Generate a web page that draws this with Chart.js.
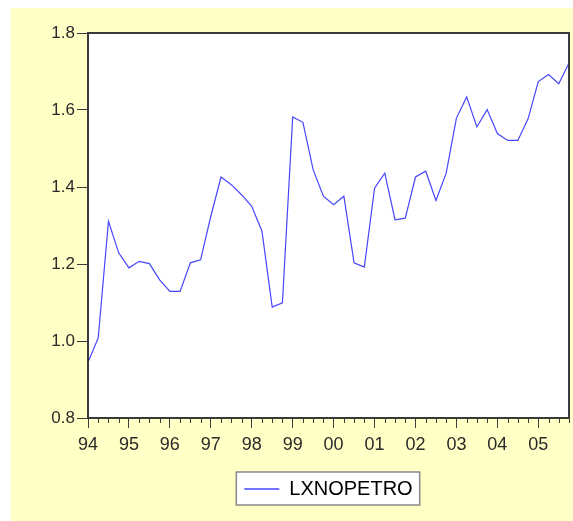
<!DOCTYPE html>
<html>
<head>
<meta charset="utf-8">
<script src="https://cdn.jsdelivr.net/npm/chart.js@4.4.0/dist/chart.umd.min.js"></script>
<style>
  html, body { margin: 0; padding: 0; background: #fff; }
  #wrap { position: relative; width: 573px; height: 521px; overflow: hidden; }
  #paper { position: absolute; left: 11px; top: 8px; right: 0; bottom: 0; background: #ffffc6; }
  #chart { position: absolute; left: 0; top: 0; }
</style>
</head>
<body>
<div id="wrap">
  <div id="paper"></div>
  <canvas id="chart" width="573" height="521"></canvas>
</div>
<script>
// --- datos: LXNOPETRO, trimestral 1994Q1 - 2005Q4 ---
const seriesName = 'LXNOPETRO';
const yearLabels = ['94', '95', '96', '97', '98', '99', '00', '01', '02', '03', '04', '05'];
const quarterLabels = [];
yearLabels.forEach(y => { for (let q = 1; q <= 4; q++) quarterLabels.push(y + 'Q' + q); });

const lxnopetro = [
  0.945, 1.008, 1.311, 1.229, 1.190, 1.207, 1.201, 1.159,
  1.129, 1.129, 1.203, 1.211, 1.324, 1.426, 1.406, 1.380,
  1.350, 1.285, 1.088, 1.099, 1.582, 1.568, 1.445, 1.376,
  1.354, 1.376, 1.203, 1.192, 1.397, 1.436, 1.315, 1.319,
  1.426, 1.441, 1.365, 1.436, 1.579, 1.634, 1.556, 1.601,
  1.539, 1.521, 1.521, 1.577, 1.674, 1.692, 1.668, 1.722
];

const yTicks = [0.8, 1.0, 1.2, 1.4, 1.6, 1.8];

const LINE_COLOR = '#4646ff';
const AXIS_COLOR = '#3a3a3a';
const TEXT_COLOR = '#2a2a2a';
const FONT = 'Arial, "Liberation Sans", sans-serif';

// --- plugin: fondo blanco del area, marco, ticks menores y caja de leyenda ---
const framePlugin = {
  id: 'frame',
  beforeDraw(chart) {
    const ctx = chart.ctx;
    const a = chart.chartArea;
    ctx.save();
    ctx.fillStyle = '#ffffff';
    ctx.fillRect(a.left, a.top, a.right - a.left, a.bottom - a.top);

    // caja de la leyenda
    const hb = chart.legend && chart.legend.legendHitBoxes && chart.legend.legendHitBoxes[0];
    if (hb) {
      const x0 = hb.left - 8, y0 = hb.top - 7;
      const w = hb.width + 15, h = hb.height + 13;
      ctx.fillStyle = '#ffffff';
      ctx.fillRect(x0, y0, w, h);
      ctx.strokeStyle = '#8a8a8a';
      ctx.lineWidth = 1.5;
      ctx.strokeRect(x0, y0, w, h);
    }
    ctx.restore();
  },
  afterDraw(chart) {
    const ctx = chart.ctx;
    const a = chart.chartArea;
    const xs = chart.scales.x;
    ctx.save();
    // ticks menores (trimestres)
    ctx.strokeStyle = AXIS_COLOR;
    ctx.lineWidth = 1;
    for (let i = 0; i < quarterLabels.length; i++) {
      if (i % 4 === 0) continue;
      const px = Math.round(xs.getPixelForValue(i)) + 0.5;
      ctx.beginPath();
      ctx.moveTo(px, a.bottom);
      ctx.lineTo(px, a.bottom + 5);
      ctx.stroke();
    }
    // marco del area de datos
    ctx.strokeStyle = AXIS_COLOR;
    ctx.lineWidth = 2;
    ctx.strokeRect(a.left, a.top, a.right - a.left, a.bottom - a.top);
    ctx.restore();
  }
};

const ctx = document.getElementById('chart').getContext('2d');
const chart = new Chart(ctx, {
  type: 'line',
  data: {
    labels: quarterLabels,
    datasets: [{
      label: seriesName,
      data: lxnopetro,
      borderColor: LINE_COLOR,
      borderWidth: 1.2,
      pointRadius: 0,
      tension: 0,
      fill: false
    }]
  },
  options: {
    responsive: false,
    animation: false,
    layout: { padding: { top: 33, right: 4, bottom: 12, left: 0 } },
    plugins: {
      tooltip: { enabled: false },
      legend: {
        position: 'bottom',
        fullSize: false,
        labels: {
          color: TEXT_COLOR,
          font: { family: FONT, size: 20 },
          boxWidth: 35,
          boxHeight: 0,
          padding: 10,
          generateLabels: () => [{
            text: seriesName,
            fillStyle: 'rgba(0,0,0,0)',
            strokeStyle: LINE_COLOR,
            lineWidth: 1.5,
            hidden: false,
            datasetIndex: 0
          }]
        }
      }
    },
    scales: {
      x: {
        type: 'category',
        offset: false,
        afterBuildTicks: scale => {
          scale.ticks = scale.ticks.filter(t => t.value % 4 === 0);
        },
        afterFit: scale => { scale.height = 51; },
        border: { display: false },
        grid: { drawOnChartArea: false, drawTicks: true, tickLength: 10, color: AXIS_COLOR, lineWidth: 1 },
        ticks: {
          autoSkip: false,
          maxRotation: 0,
          padding: 6,
          color: TEXT_COLOR,
          font: { family: FONT, size: 18 },
          callback: value => yearLabels[value / 4]
        }
      },
      y: {
        min: 0.8,
        max: 1.8,
        afterBuildTicks: scale => {
          scale.ticks = yTicks.map(v => ({ value: v }));
        },
        afterFit: scale => { scale.width = 88; },
        border: { display: false },
        grid: { drawOnChartArea: false, drawTicks: true, tickLength: 11, color: AXIS_COLOR, lineWidth: 1 },
        ticks: {
          padding: 2,
          color: TEXT_COLOR,
          font: { family: FONT, size: 17 },
          callback: value => value.toFixed(1)
        }
      }
    }
  },
  plugins: [framePlugin]
});
</script>
</body>
</html>
